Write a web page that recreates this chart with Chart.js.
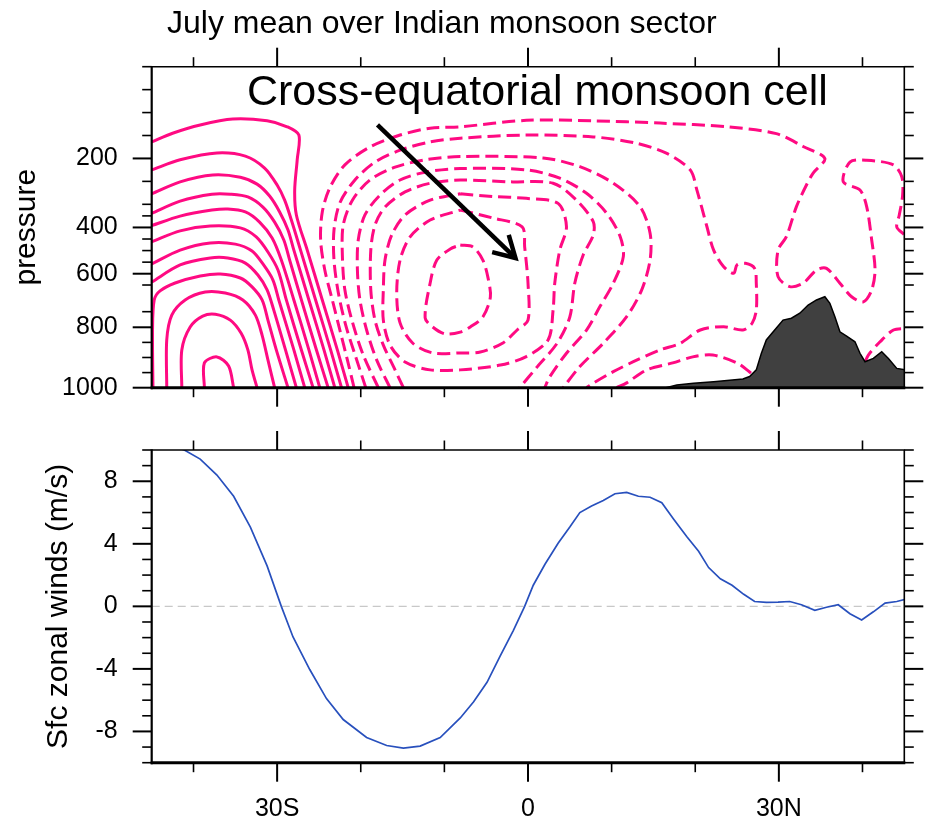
<!DOCTYPE html>
<html>
<head>
<meta charset="utf-8">
<script src="https://cdn.jsdelivr.net/npm/chart.js@4.4.1/dist/chart.umd.min.js"></script>
<style>
  body { margin: 0; background: #fff; }
  #wrap { position: relative; width: 927px; height: 822px; }
  canvas { position: absolute; left: 0; }
  #top { top: 0; }
  #bottom { top: 420px; }
</style>
</head>
<body>
<div id="wrap">
  <canvas id="top" width="927" height="420"></canvas>
  <canvas id="bottom" width="927" height="402"></canvas>
</div>
<script>
// ---- axis ticks ----
const latMajor = [-30, 0, 30];
const latNames = ['30S', '0', '30N'];
const latMinor = [-40, -20, -10, 10, 20, 40];
const presMajor = [1000, 800, 600, 400, 200];
const presMinor = [950, 900, 850, 750, 650, 550, 500, 450, 350, 300, 250, 150, 100, 50, 0];
const windMajor = [-8, -4, 0, 4, 8];
const windMinor = [-10, -9, -7, -6, -5, -3, -2, -1, 1, 2, 3, 5, 6, 7, 9, 10];

// ---- surface zonal wind (m/s) vs latitude ----
const windLat = [-45.5, -44.1, -42.7, -41.1, -39.2, -37.2, -35.2, -33.2, -31.2, -29.5, -28.1, -26.1,
  -24.1, -22.1, -19.3, -16.9, -14.9, -12.9, -10.5, -8.1, -6.5, -4.9, -3.35, -1.76, -0.4, 0.63,
  2.03, 3.6, 5.0, 6.2, 7.6, 9.0, 10.4, 11.8, 13.2, 14.6, 16.0, 17.4, 19.0, 20.4, 21.6, 23.0,
  24.4, 25.8, 27.1, 28.5, 29.9, 31.3, 32.7, 34.3, 35.7, 37.1, 38.5, 39.9, 41.3, 42.7, 44.1, 45.5];
const windU = [10.6, 10.5, 10.3, 10.0, 9.42, 8.4, 7.04, 5.07, 2.59, 0, -1.96, -4.04,
  -5.9, -7.24, -8.39, -8.9, -9.07, -8.94, -8.39, -7.14, -6.1, -4.86, -3.2, -1.55, 0, 1.35,
  2.69, 4.04, 5.07, 6.0, 6.42, 6.77, 7.2, 7.29, 7.04, 6.98, 6.63, 5.59, 4.45, 3.52, 2.48, 1.76,
  1.35, 0.77, 0.31, 0.25, 0.27, 0.31, 0.1, -0.25, -0.06, 0.1, -0.47, -0.87, -0.35, 0.21, 0.31, 0.5];

// ---- topography (surface pressure, hPa) ----
const topoLat = [16.5, 17.8, 19.8, 22.2, 23.8, 25.7, 26.5, 27.3, 27.9, 28.5, 29.5, 30.5, 31.5, 32.5,
  33.5, 34.5, 35.5, 36.1, 36.7, 37.3, 38.1, 39.1, 39.7, 40.3, 41.3, 42.3, 43.1, 44.1, 45.2];
const topoP = [1000, 991, 985, 980, 976, 971, 963, 941, 887, 842, 809, 777, 771, 755,
  725, 706, 694, 719, 766, 815, 829, 848, 886, 914, 903, 881, 903, 936, 941];

// ---- streamfunction contours [lat, hPa]: positive (solid) ----
const posContours = [
  [[-45, 164], [-42.5, 145], [-39.2, 127], [-35.3, 114], [-31.2, 118], [-28.8, 131], [-27.4, 149], [-27.6, 203],
   [-27.9, 269], [-27.7, 346], [-26.4, 498], [-24.6, 706], [-22.8, 875], [-21.5, 1000]],
  [[-45, 225], [-41.6, 203], [-37.2, 188], [-33.8, 195], [-31.5, 221], [-30.0, 258], [-29.1, 291], [-28.3, 368],
   [-27.2, 498], [-25.4, 706], [-23.6, 875], [-22.3, 1000]],
  [[-45, 277], [-41.6, 251], [-37.7, 236], [-34.4, 241], [-32.4, 256], [-30.9, 282], [-29.7, 333], [-28.7, 411],
   [-28.0, 498], [-26.2, 706], [-24.4, 875], [-23.1, 1000]],
  [[-45, 339], [-41.6, 293], [-37.8, 278], [-35.6, 278], [-33.5, 284], [-31.7, 312], [-30.3, 377], [-29.2, 454],
   [-28.5, 541], [-27.1, 706], [-25.3, 875], [-23.9, 1000]],
  [[-45, 392], [-41.6, 351], [-37.8, 325], [-35.9, 320], [-33.8, 333], [-32.1, 377], [-30.6, 446], [-29.5, 541],
   [-28.0, 706], [-26.2, 875], [-24.9, 1000]],
  [[-45, 462], [-41.6, 415], [-38.0, 394], [-34.4, 402], [-32.5, 441], [-31.1, 506], [-29.9, 584], [-28.9, 706],
   [-27.1, 875], [-25.7, 1000]],
  [[-45, 558], [-41.6, 498], [-38.0, 467], [-35.0, 472], [-33.0, 502], [-31.7, 558], [-30.5, 628], [-29.8, 706],
   [-28.0, 875], [-26.7, 1000]],
  [[-45, 637], [-41.6, 562], [-38.0, 532], [-35.9, 532], [-33.8, 554], [-32.3, 606], [-31.2, 668], [-30.4, 744],
   [-29.0, 875], [-27.7, 1000]],
  [[-44.85, 1000], [-44.9, 809], [-44.7, 706], [-44.0, 672], [-42.2, 641], [-39.2, 610], [-36.8, 601], [-34.4, 619],
   [-33.0, 657], [-31.8, 706], [-31.1, 777], [-30.1, 875], [-28.7, 1000]],
  [[-43.2, 1000], [-43.2, 842], [-42.6, 761], [-41.0, 706], [-38.6, 676], [-36.2, 680], [-34.1, 706], [-32.6, 761],
   [-31.8, 826], [-31.1, 908], [-30.3, 1000]],
  [[-41.4, 1000], [-41.4, 875], [-40.4, 799], [-38.9, 764], [-37.4, 758], [-35.6, 777], [-34.3, 820], [-33.5, 875],
   [-33.0, 941], [-32.4, 1000]],
  [[-38.7, 1000], [-38.7, 918], [-37.2, 898], [-35.8, 928], [-35.2, 1000]]
];

// ---- negative (dashed) ----
const negContours = [
  [[-8.1, 476], [-6.6, 484], [-5.4, 541], [-4.8, 615], [-4.5, 695], [-5.4, 767], [-6.9, 799], [-8.1, 816],
   [-9.9, 822], [-11.4, 799], [-12.3, 770], [-11.7, 641], [-10.9, 541], [-9.3, 493], [-8.1, 476]],
  [[-8.1, 325], [-4.2, 359], [-0.7, 398], [-0.4, 484], [0, 641], [0, 777], [-1.3, 809], [-3.0, 852],
   [-5.7, 882], [-8.1, 885], [-11.4, 885], [-13.8, 852], [-15.3, 786], [-15.7, 680], [-15.3, 541],
   [-14.1, 441], [-11.7, 368], [-8.1, 325]],
  [[-8.1, 277], [-4.2, 283], [-0.2, 287], [3.6, 298], [4.6, 397], [3.8, 498], [3.2, 642], [3.0, 744],
   [2.4, 842], [-0.2, 897], [-3.3, 925], [-8.1, 941], [-11.7, 941], [-14.7, 915], [-16.5, 859], [-17.3, 777],
   [-17.3, 668], [-17.1, 541], [-16.3, 433], [-14.7, 346], [-11.7, 291], [-8.1, 277]],
  [[-14.9, 1000], [-15.9, 941], [-17.3, 859], [-18.3, 777], [-18.8, 668], [-18.8, 498], [-18.3, 390], [-17.1, 312],
   [-14.7, 273], [-11.7, 254], [-8.1, 247], [-2.2, 251], [3.0, 254], [5.8, 291], [7.8, 375], [7.8, 433],
   [6.6, 519], [5.6, 641], [5.0, 767], [3.5, 852], [1.1, 931], [-1.0, 1000]],
  [[-16.5, 1000], [-18.1, 908], [-19.3, 809], [-20.1, 706], [-20.4, 584], [-20.3, 454], [-19.5, 346], [-17.7, 280],
   [-15.3, 247], [-12.3, 230], [-8.1, 222], [-0.2, 225], [3.8, 243], [7.0, 276], [9.4, 338], [11.0, 437],
   [11.4, 526], [10.2, 642], [8.6, 731], [7.0, 809], [4.6, 886], [2.6, 964], [2.0, 1000]],
  [[-17.9, 1000], [-19.7, 892], [-21.0, 783], [-21.9, 668], [-22.2, 519], [-22.1, 390], [-21.0, 291], [-18.9, 247],
   [-15.9, 219], [-12.3, 203], [-8.1, 196], [1.8, 199], [6.2, 218], [10.2, 254], [13.4, 310], [14.6, 425],
   [14.6, 541], [13.6, 668], [11.8, 766], [9.0, 853], [6.2, 930], [4.2, 1000]],
  [[-19.4, 1000], [-20.6, 898], [-21.8, 793], [-22.7, 676], [-23.2, 541], [-23.2, 411], [-22.5, 297], [-20.7, 247],
   [-18.3, 208], [-15.3, 182], [-11.7, 164], [-8.1, 156], [-0.2, 149], [7.8, 153], [13.0, 167], [16.6, 189],
   [19.4, 225], [20.2, 269], [21.4, 397], [22.2, 498], [23.4, 570], [24.6, 598], [25.0, 562], [26.0, 555],
   [27.1, 577], [27.3, 642], [27.3, 744], [26.8, 787], [25.7, 809], [23.4, 798], [20.6, 809], [18.2, 853],
   [15.8, 875], [12.6, 914], [10.2, 947], [7.8, 985], [7.0, 1000]],
  [[-20.8, 1000], [-21.6, 908], [-22.5, 809], [-23.4, 706], [-24.3, 584], [-24.8, 454], [-24.6, 333], [-23.7, 264],
   [-21.9, 214], [-18.9, 175], [-15.3, 149], [-11.7, 134], [-8.1, 131], [-0.2, 117], [7.8, 118], [15.8, 123],
   [23.8, 131], [29.7, 146], [32.9, 174], [35.5, 200], [34.1, 232], [33.3, 258], [32.1, 310], [30.9, 440],
   [29.9, 498], [29.9, 613], [31.3, 656], [32.9, 642], [34.5, 584], [35.7, 577], [37.3, 642], [38.7, 694],
   [40.1, 713], [41.1, 669], [41.5, 584], [41.1, 454], [40.5, 310], [39.7, 269], [37.7, 251], [38.5, 208],
   [40.5, 204], [43.7, 214], [44.7, 240], [44.8, 280], [44.4, 346], [44.1, 398], [44.9, 428], [45.2, 437]],
  [[10.6, 1000], [11.8, 984], [14.2, 941], [17.3, 918], [19.7, 898], [22.1, 892], [25.0, 918], [26.5, 948], [27.4, 968]],
  [[40.3, 915], [40.7, 892], [42.1, 848], [43.7, 809], [45.1, 804]]
];

const arrowStart = [-18, 127];
const arrowEnd = [-1.5, 532];

// ---- irregular pressure axis ----
const PRES_KNOTS = [1000, 800, 750, 650, 600, 300, 0];
const PRES_FRAC = [0, 0.1882, 0.2368, 0.3199, 0.3551, 0.5713, 1];

function presToFrac(p) {
  if (p >= PRES_KNOTS[0]) {
    return (PRES_KNOTS[0] - p) / (PRES_KNOTS[0] - PRES_KNOTS[1]) * PRES_FRAC[1];
  }
  for (let i = 1; i < PRES_KNOTS.length; i++) {
    if (p >= PRES_KNOTS[i]) {
      const t = (PRES_KNOTS[i - 1] - p) / (PRES_KNOTS[i - 1] - PRES_KNOTS[i]);
      return PRES_FRAC[i - 1] + t * (PRES_FRAC[i] - PRES_FRAC[i - 1]);
    }
  }
  return 1;
}

function fracToPres(f) {
  for (let i = 1; i < PRES_FRAC.length; i++) {
    if (f <= PRES_FRAC[i]) {
      const t = (f - PRES_FRAC[i - 1]) / (PRES_FRAC[i] - PRES_FRAC[i - 1]);
      return PRES_KNOTS[i - 1] + t * (PRES_KNOTS[i] - PRES_KNOTS[i - 1]);
    }
  }
  return 0;
}

class PressureScale extends Chart.LinearScale {
  getPixelForValue(value) {
    return this.getPixelForDecimal(presToFrac(value));
  }
  getValueForPixel(pixel) {
    return fracToPres(this.getDecimalForPixel(pixel));
  }
}
PressureScale.id = 'pressure';
PressureScale.defaults = Chart.LinearScale.defaults;
Chart.register(PressureScale);

const FONT = 'Liberation Sans, Arial, Helvetica, sans-serif';
const PINK = '#ff0a82';

// frame + outward ticks on all four sides
const framePlugin = {
  id: 'frame',
  afterDraw(chart, args, opts) {
    const { ctx, chartArea: a } = chart;
    const xs = chart.scales.x, ys = chart.scales.y;
    ctx.save();
    ctx.strokeStyle = '#000';
    ctx.lineCap = 'butt';
    function seg(x1, y1, x2, y2, w) {
      ctx.lineWidth = w;
      ctx.beginPath();
      ctx.moveTo(x1, y1);
      ctx.lineTo(x2, y2);
      ctx.stroke();
    }
    const xt = (vals, len, w) => vals.forEach(v => {
      const px = xs.getPixelForValue(v);
      seg(px, a.bottom, px, a.bottom + len, w);
      seg(px, a.top, px, a.top - len, w);
    });
    const yt = (vals, len, w) => vals.forEach(v => {
      const py = ys.getPixelForValue(v);
      seg(a.left, py, a.left - len, py, w);
      seg(a.right, py, a.right + len, py, w);
    });
    xt(opts.xMinor, 9.5, 1.6);
    xt(opts.xMajor, 19, 2);
    yt(opts.yMinor, 9.5, 1.6);
    yt(opts.yMajor, 19, 2);
    seg(a.left, a.top, a.right + 0.8, a.top, 1.6);
    seg(a.right, a.top, a.right, a.bottom, 1.6);
    seg(a.left, a.top - 0.8, a.left, a.bottom + 1.5, 2.2);
    seg(a.left - 1, a.bottom, a.right + 1, a.bottom, 3);
    ctx.restore();
  }
};

// title, annotation and arrow on the upper panel
const notesPlugin = {
  id: 'notes',
  afterDraw(chart) {
    const { ctx } = chart;
    const xs = chart.scales.x, ys = chart.scales.y;
    ctx.save();
    ctx.fillStyle = '#000';
    ctx.textBaseline = 'alphabetic';
    ctx.textAlign = 'left';
    ctx.font = '32px ' + FONT;
    ctx.fillText('July mean over Indian monsoon sector', 167, 33);
    ctx.font = '43px ' + FONT;
    ctx.fillText('Cross-equatorial monsoon cell', 247, 105);

    const x1 = xs.getPixelForValue(arrowStart[0]), y1 = ys.getPixelForValue(arrowStart[1]);
    const x2 = xs.getPixelForValue(arrowEnd[0]), y2 = ys.getPixelForValue(arrowEnd[1]);
    const ang = Math.atan2(y2 - y1, x2 - x1);
    ctx.strokeStyle = '#000';
    ctx.lineWidth = 4.5;
    ctx.lineCap = 'butt';
    ctx.beginPath();
    ctx.moveTo(x1, y1);
    ctx.lineTo(x2 - 2 * Math.cos(ang), y2 - 2 * Math.sin(ang));
    ctx.stroke();
    const head = 24, spread = 0.52;
    ctx.lineJoin = 'miter';
    ctx.beginPath();
    ctx.moveTo(x2 - head * Math.cos(ang - spread), y2 - head * Math.sin(ang - spread));
    ctx.lineTo(x2, y2);
    ctx.lineTo(x2 - head * Math.cos(ang + spread), y2 - head * Math.sin(ang + spread));
    ctx.stroke();
    ctx.restore();
  }
};

const zeroLinePlugin = {
  id: 'zeroLine',
  beforeDatasetsDraw(chart) {
    const { ctx, chartArea: a } = chart;
    const py = chart.scales.y.getPixelForValue(0);
    ctx.save();
    ctx.strokeStyle = '#c8c8c8';
    ctx.lineWidth = 1.3;
    ctx.setLineDash([8, 5]);
    ctx.beginPath();
    ctx.moveTo(a.left, py);
    ctx.lineTo(a.right, py);
    ctx.stroke();
    ctx.restore();
  }
};

function toPts(list) {
  return list.map(p => ({ x: p[0], y: p[1] }));
}

const contourSets = [];
posContours.forEach(c => contourSets.push({
  data: toPts(c), showLine: true, borderColor: PINK, borderWidth: 3,
  pointRadius: 0, fill: false, tension: 0.3, order: 2
}));
negContours.forEach(c => contourSets.push({
  data: toPts(c), showLine: true, borderColor: PINK, borderWidth: 3, borderDash: [13, 6],
  pointRadius: 0, fill: false, tension: 0.3, order: 2
}));
contourSets.push({
  data: topoLat.map((v, i) => ({ x: v, y: topoP[i] })),
  showLine: true, borderColor: '#000', borderWidth: 1.5, backgroundColor: '#404040',
  fill: { value: 1000 }, pointRadius: 0, tension: 0, order: 0
});

new Chart(document.getElementById('top'), {
  type: 'scatter',
  data: { datasets: contourSets },
  options: {
    responsive: false,
    animation: false,
    devicePixelRatio: 1,
    layout: { padding: { left: 0, right: 22.7, top: 66.7, bottom: 32.3 } },
    plugins: {
      legend: { display: false },
      tooltip: { enabled: false },
      frame: { xMajor: latMajor, xMinor: latMinor, yMajor: presMajor, yMinor: presMinor }
    },
    scales: {
      x: { type: 'linear', min: -45, max: 45, display: false },
      y: {
        type: 'pressure', position: 'left', min: 0, max: 1000,
        afterFit: s => { s.width = 151.7; },
        afterBuildTicks: s => { s.ticks = presMajor.map(v => ({ value: v })); },
        ticks: { callback: v => String(v), font: { family: FONT, size: 25 }, color: '#000', padding: 15 },
        grid: { display: true, drawOnChartArea: false, drawTicks: true, tickLength: 19, tickColor: 'rgba(0,0,0,0)' },
        border: { display: false },
        title: { display: true, text: 'pressure', color: '#000', font: { family: FONT, size: 30 }, padding: { top: 9, bottom: 0 } }
      }
    }
  },
  plugins: [framePlugin, notesPlugin]
});

new Chart(document.getElementById('bottom'), {
  type: 'scatter',
  data: {
    datasets: [{
      data: windLat.map((v, i) => ({ x: v, y: windU[i] })),
      showLine: true, borderColor: '#2850bd', borderWidth: 1.7, pointRadius: 0, fill: false, tension: 0
    }]
  },
  options: {
    responsive: false,
    animation: false,
    devicePixelRatio: 1,
    layout: { padding: { left: 0, right: 22.7, top: 20.7, bottom: 0 } },
    plugins: {
      legend: { display: false },
      tooltip: { enabled: false },
      frame: { xMajor: latMajor, xMinor: latMinor, yMajor: windMajor, yMinor: windMinor }
    },
    scales: {
      x: {
        type: 'linear', min: -45, max: 45, position: 'bottom',
        afterFit: s => { s.height = 59.3; },
        afterBuildTicks: s => { s.ticks = latMajor.map(v => ({ value: v })); },
        ticks: { callback: v => latNames[latMajor.indexOf(v)], font: { family: FONT, size: 25 }, color: '#000', padding: 12, maxRotation: 0, autoSkip: false },
        grid: { display: true, drawOnChartArea: false, drawTicks: true, tickLength: 19, tickColor: 'rgba(0,0,0,0)' },
        border: { display: false }
      },
      y: {
        type: 'linear', position: 'left', min: -10, max: 10,
        afterFit: s => { s.width = 151.7; },
        afterBuildTicks: s => { s.ticks = windMajor.map(v => ({ value: v })); },
        ticks: { callback: v => String(v), font: { family: FONT, size: 25 }, color: '#000', padding: 15 },
        grid: { display: true, drawOnChartArea: false, drawTicks: true, tickLength: 19, tickColor: 'rgba(0,0,0,0)' },
        border: { display: false },
        title: { display: true, text: 'Sfc zonal winds (m/s)', color: '#000', font: { family: FONT, size: 30 }, padding: { top: 41, bottom: 0 } }
      }
    }
  },
  plugins: [framePlugin, zeroLinePlugin]
});
</script>
</body>
</html>
